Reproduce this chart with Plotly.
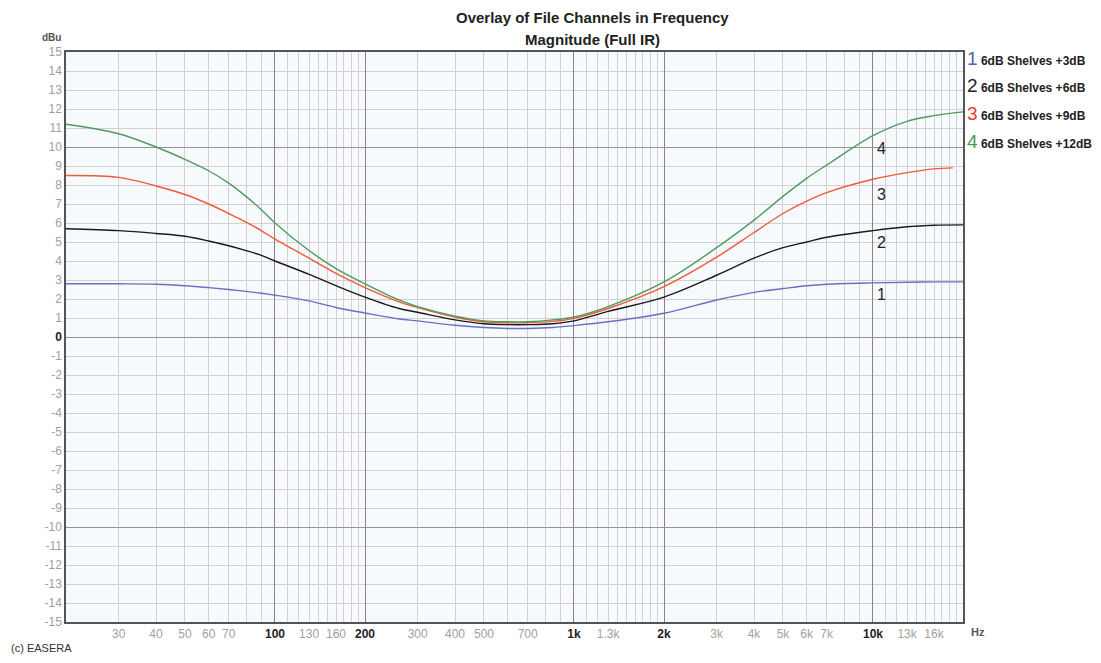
import plotly.graph_objects as go

# frequency response data
freq = [20, 30, 40, 50, 60, 70, 80, 90, 100, 130, 160, 200, 260, 300, 400, 500,
        600, 700, 850, 1000, 1300, 2000, 3000, 4000, 5000, 6000, 7000, 10000,
        13000, 16000, 20000]
freq_red = freq[:-1] + [18500]

shelf_3db = [2.8, 2.8, 2.78, 2.7, 2.6, 2.5, 2.4, 2.3, 2.2, 1.9, 1.55, 1.26, 0.95,
             0.85, 0.62, 0.5, 0.45, 0.45, 0.5, 0.6, 0.8, 1.25, 1.95, 2.35, 2.55,
             2.7, 2.78, 2.85, 2.88, 2.9, 2.9]
shelf_6db = [5.7, 5.6, 5.45, 5.3, 5.05, 4.8, 4.55, 4.3, 4.0, 3.3, 2.7, 2.1, 1.5,
             1.3, 0.9, 0.7, 0.65, 0.65, 0.7, 0.85, 1.35, 2.1, 3.25, 4.15, 4.7,
             5.0, 5.25, 5.6, 5.8, 5.88, 5.9]
shelf_9db = [8.5, 8.4, 7.95, 7.5, 7.0, 6.5, 6.05, 5.6, 5.15, 4.15, 3.35, 2.6, 1.85,
             1.55, 1.05, 0.8, 0.75, 0.75, 0.82, 0.98, 1.5, 2.65, 4.2, 5.5, 6.5,
             7.15, 7.6, 8.3, 8.65, 8.85, 8.9]
shelf_12db = [11.2, 10.7, 10.0, 9.35, 8.75, 8.1, 7.4, 6.7, 6.0, 4.55, 3.6, 2.8, 1.95,
              1.6, 1.1, 0.85, 0.8, 0.8, 0.9, 1.05, 1.6, 2.9, 4.7, 6.15, 7.4, 8.35,
              9.05, 10.6, 11.35, 11.65, 11.85]

names = ['6dB Shelves +3dB', '6dB Shelves +6dB', '6dB Shelves +9dB', '6dB Shelves +12dB']
line_colors = ['#6b6fc4', '#1a1a1a', '#ee5a3a', '#4f9a5f']
num_colors = ['#5560b0', '#222222', '#e04030', '#4a9a50']

# tick labels
x_labels = {30: '30', 40: '40', 50: '50', 60: '60', 70: '70', 100: '100', 130: '130',
            160: '160', 200: '200', 300: '300', 400: '400', 500: '500', 700: '700',
            1000: '1k', 1300: '1.3k', 2000: '2k', 3000: '3k', 4000: '4k', 5000: '5k',
            6000: '6k', 7000: '7k', 10000: '10k', 13000: '13k', 16000: '16k'}
bold_x = [100, 200, 1000, 2000, 10000]
y_ticks = list(range(-15, 16))

# grid positions: 10 Hz steps up to 200, 100 Hz up to 2k, 1 kHz above
grid_x = (list(range(20, 200, 10)) + list(range(200, 2000, 100))
          + list(range(2000, 20001, 1000)))

# page body has an 8px margin, so the figure is shifted by that much
OFF = 8
W, H = 1101 - 2 * OFF, 663 - 2 * OFF
L, R, T, B = 66, 963, 52, 622   # plot area in window pixels


def px(x):
    return (x - L) / (R - L)


def py(y):
    return (B - y) / (B - T)


fig = go.Figure()
for xs, ys, name, c in zip([freq, freq, freq_red, freq],
                           [shelf_3db, shelf_6db, shelf_9db, shelf_12db],
                           names, line_colors):
    fig.add_trace(go.Scatter(x=xs, y=ys, name=name, mode='lines',
                             line=dict(color=c, width=1.4, shape='spline', smoothing=1),
                             showlegend=False))

# invisible trace on the overlay axes so they get drawn
fig.add_trace(go.Scatter(x=[100], y=[0], xaxis='x2', yaxis='y2', mode='markers',
                         marker=dict(opacity=0), showlegend=False, hoverinfo='skip'))

xtext = []
for v in grid_x:
    if v in x_labels:
        if v in bold_x:
            xtext.append("<b><span style='color:#222'>%s</span></b>" % x_labels[v])
        else:
            xtext.append(x_labels[v])
    else:
        xtext.append('')

ytext = []
for v in y_ticks:
    if v == 0:
        ytext.append("<b><span style='color:#222'>0</span></b>")
    else:
        ytext.append(str(v))

fig.update_layout(
    width=W, height=H,
    margin=dict(l=L - OFF, r=W - (R - OFF), t=T - OFF, b=H - (B - OFF)),
    paper_bgcolor='white',
    plot_bgcolor='#f7fafd',
    font=dict(family='Arial, Liberation Sans, sans-serif', color='#9a9a9a', size=12),
    xaxis=dict(type='log', range=[1.30103, 4.30103], tickvals=grid_x, ticktext=xtext,
               showgrid=True, gridcolor='#d6cfcf', gridwidth=1, ticks='',
               showline=True, linecolor='#555', linewidth=1.5, mirror=True,
               zeroline=False, tickfont=dict(size=12, color='#a0a0a0')),
    yaxis=dict(range=[-15, 15], tickvals=y_ticks, ticktext=ytext,
               showgrid=True, gridcolor='#d6cfcf', gridwidth=1, ticks='',
               showline=True, linecolor='#555', linewidth=1.5, mirror=True,
               zeroline=False, tickfont=dict(size=12, color='#a0a0a0')),
    xaxis2=dict(type='log', range=[1.30103, 4.30103], overlaying='x',
                tickvals=bold_x, showticklabels=False, showgrid=True,
                gridcolor='#8c8282', gridwidth=1, ticks='', zeroline=False),
    yaxis2=dict(range=[-15, 15], overlaying='y', tickvals=[-10, 0, 10],
                showticklabels=False, showgrid=True, gridcolor='#9a9090',
                gridwidth=1, ticks='', zeroline=False),
)

ann = []


def note(x, y, text, size, color, xanchor='center'):
    ann.append(dict(x=px(x), y=py(y), xref='paper', yref='paper', text=text,
                    showarrow=False, xanchor=xanchor, yanchor='middle',
                    font=dict(size=size, color=color)))


# title
note(592, 17, '<b>Overlay of File Channels in Frequency</b>', 15, '#222')
note(592, 40, '<b>Magnitude (Full IR)</b>', 15, '#222')
note(63, 38, '<b>dBu</b>', 10, '#555', 'right')
note(969, 632, '<b>Hz</b>', 11, '#555', 'left')
note(9, 648, '(c) EASERA', 11, '#333', 'left')

# legend on the right
legend_y = [58, 86, 113, 141]
for i in range(4):
    note(965, legend_y[i],
         "<span style='font-size:19px;color:%s'>%d</span> <b>%s</b>"
         % (num_colors[i], i + 1, names[i]), 12, '#222', 'left')

# curve numbers near 10 kHz
label_y = [294, 242, 194, 148]
for i in range(4):
    note(875, label_y[i], str(i + 1), 16, '#222', 'left')

fig.update_layout(annotations=ann)
fig.write_html("out.html")
